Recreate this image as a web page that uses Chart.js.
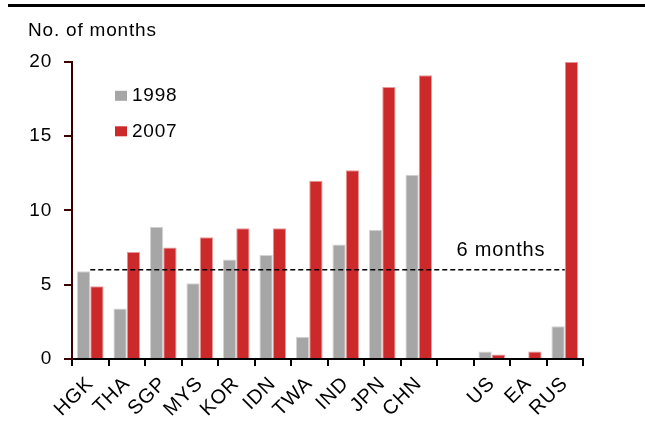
<!DOCTYPE html>
<html>
<head>
<meta charset="utf-8">
<script src="https://cdn.jsdelivr.net/npm/chart.js@4/dist/chart.umd.min.js"></script>
<style>
  html, body { margin: 0; padding: 0; background: #fff; }
  #wrap { width: 645px; height: 426px; position: relative; }
</style>
</head>
<body>
<div id="wrap"><canvas id="chart"></canvas></div>
<script>
// categories (the empty one is the gap before US)
const countries = ['HGK', 'THA', 'SGP', 'MYS', 'KOR', 'IDN', 'TWA', 'IND', 'JPN', 'CHN', '', 'US', 'EA', 'RUS'];
const values1998 = [5.9, 3.4, 8.9, 5.1, 6.7, 7.0, 1.5, 7.7, 8.7, 12.4, null, 0.5, null, 2.2];
const values2007 = [4.9, 7.2, 7.5, 8.2, 8.8, 8.8, 12.0, 12.7, 18.3, 19.1, null, 0.3, 0.5, 20.0];
const threshold = [6, 6, 6, 6, 6, 6, 6, 6, 6, 6, 6, 6, 6, 6];
const yTicks = [0, 5, 10, 15, 20];

const FONT = "'Liberation Sans', Arial, sans-serif";
const GREY = '#a6a6a6';
const RED = '#cc292b';

document.addEventListener('DOMContentLoaded', function() {
    // the original text is set a little loose
    const spacing = {
        id: 'spacing',
        beforeUpdate(chart) { chart.ctx.letterSpacing = '0.8px'; },
        beforeDraw(chart) { chart.ctx.letterSpacing = '0.8px'; }
    };

    // thin black rule across the top
    const topRule = {
        id: 'topRule',
        beforeDraw(chart) {
            const ctx = chart.ctx;
            ctx.save();
            ctx.fillStyle = '#000';
            ctx.fillRect(8, 4, chart.width - 8, 3);
            ctx.restore();
        }
    };

    // legend inside the plot, plus the "6 months" note
    const notes = {
        id: 'notes',
        afterDatasetsDraw(chart) {
            const ctx = chart.ctx;
            const area = chart.chartArea;
            const x = chart.scales.x;
            const y = chart.scales.y;
            ctx.save();
            ctx.font = '19px ' + FONT;
            ctx.fillStyle = '#000';
            ctx.textBaseline = 'middle';

            // legend
            const items = chart.data.datasets.filter(d => d.type !== 'line');
            items.forEach(function(d, i) {
                const cy = area.top + 34 + i * 35.5;
                ctx.fillStyle = d.backgroundColor;
                ctx.fillRect(area.left + 43, cy - 5, 12, 10);
                ctx.fillStyle = '#000';
                ctx.textAlign = 'left';
                ctx.fillText(d.label, area.left + 60, cy);
            });

            // threshold label
            ctx.font = '20px ' + FONT;
            ctx.textAlign = 'right';
            ctx.fillText('6 months', x.getPixelForValue(12) + 17, y.getPixelForValue(6) - 19);
            ctx.restore();
        }
    };

    const ctx = document.getElementById('chart').getContext('2d');
    new Chart(ctx, {
        type: 'bar',
        data: {
            labels: countries,
            datasets: [{
                type: 'line',
                label: '6 months',
                data: threshold,
                borderColor: '#000',
                borderWidth: 1.5,
                borderDash: [5, 3],
                pointRadius: 0,
                fill: false,
                order: 0
            }, {
                label: '1998',
                data: values1998,
                backgroundColor: GREY,
                borderColor: '#d4d4d4',
                borderWidth: 1,
                order: 1
            }, {
                label: '2007',
                data: values2007,
                backgroundColor: RED,
                borderColor: '#e49a9a',
                borderWidth: 1,
                order: 1
            }]
        },
        options: {
            responsive: true,
            maintainAspectRatio: false,
            animation: false,
            categoryPercentage: 0.73,
            barPercentage: 1.0,
            layout: {
                padding: { left: 28, right: 62, top: 0, bottom: 6 }
            },
            plugins: {
                legend: { display: false },
                tooltip: { enabled: false },
                title: {
                    display: true,
                    text: 'No. of months',
                    align: 'start',
                    color: '#000',
                    font: { family: FONT, size: 19, weight: 'normal' },
                    padding: { top: 19, bottom: 20 }
                }
            },
            scales: {
                x: {
                    grid: {
                        display: true,
                        drawOnChartArea: false,
                        drawTicks: true,
                        tickLength: 7,
                        offset: true,
                        color: '#000',
                        lineWidth: 2
                    },
                    border: { color: '#000', width: 2 },
                    ticks: {
                        color: '#000',
                        font: { family: FONT, size: 20 },
                        minRotation: 45,
                        maxRotation: 45,
                        autoSkip: false,
                        padding: 6
                    },
                    afterFit(scale) { scale.height = 61; }
                },
                y: {
                    min: 0,
                    max: 20,
                    afterBuildTicks(scale) {
                        scale.ticks = yTicks.map(v => ({ value: v }));
                    },
                    grid: {
                        display: true,
                        drawOnChartArea: false,
                        drawTicks: true,
                        tickLength: 8,
                        color: '#3d0000',
                        lineWidth: 2
                    },
                    border: { color: '#3d0000', width: 2 },
                    ticks: {
                        color: '#000',
                        font: { family: FONT, size: 19 },
                        padding: 12
                    },
                    afterFit(scale) { scale.width = 44; }
                }
            }
        },
        plugins: [spacing, topRule, notes]
    });
});
</script>
</body>
</html>
